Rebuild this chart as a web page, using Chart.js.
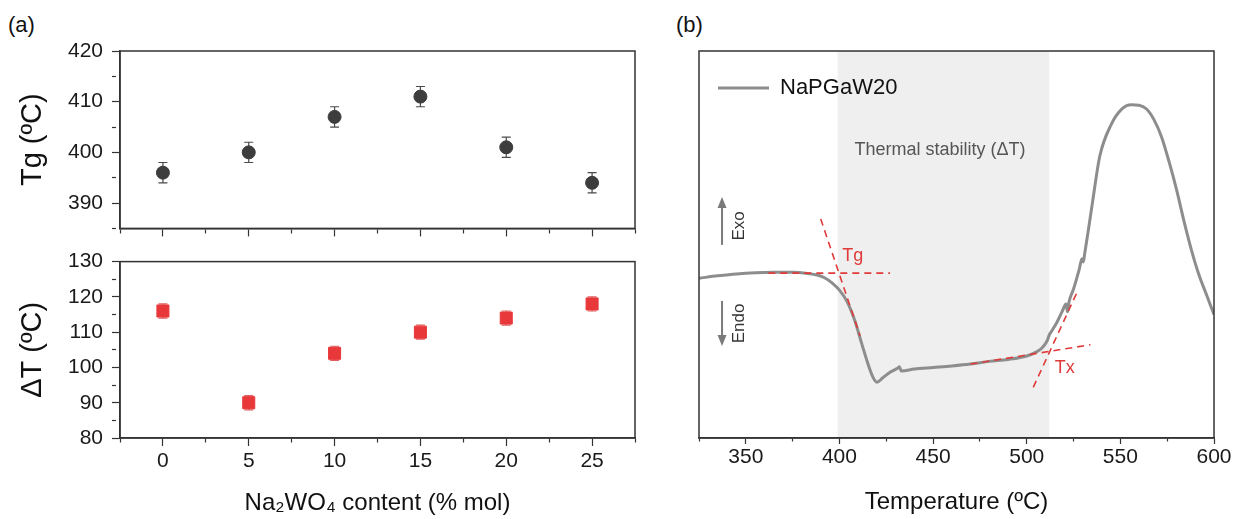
<!DOCTYPE html>
<html>
<head>
<meta charset="utf-8">
<script src="https://cdn.jsdelivr.net/npm/chart.js@4.4.0/dist/chart.umd.min.js"></script>
<style>
  body { margin: 0; background: #fff; font-family: 'Liberation Sans', Arial, sans-serif; }
  #wrap { position: relative; width: 1236px; height: 519px; overflow: hidden; }
  canvas { position: absolute; }
  .tag { position: absolute; font-size: 22px; color: #111; }
</style>
</head>
<body>
<div id="wrap">
  <div class="tag" style="left:8px;top:12px">(a)</div>
  <div class="tag" style="left:676px;top:12px">(b)</div>
  <canvas id="tgChart" width="660" height="250" style="left:0;top:0"></canvas>
  <canvas id="dtChart" width="660" height="279" style="left:0;top:240px"></canvas>
  <canvas id="dscChart" width="576" height="519" style="left:660px;top:0"></canvas>
</div>
<script>
// (a) Tg and thermal stability vs Na2WO4 content
const content = [0, 5, 10, 15, 20, 25];
const tgValues = [396, 400, 407, 411, 401, 394];
const tgErrors = [2, 2, 2, 2, 2, 2];
const dtValues = [116, 90, 104, 110, 114, 118];
const dtErrors = [2, 2, 2, 2, 2, 2];

// tick positions (labels only on the major ones)
const contentTicks = [-2.5, 0, 2.5, 5, 7.5, 10, 12.5, 15, 17.5, 20, 22.5, 25, 27.5];
const tgTicks = [385, 390, 395, 400, 405, 410, 415, 420];
const dtTicks = [80, 85, 90, 95, 100, 105, 110, 115, 120, 125, 130];
const tempTicks = [325, 350, 375, 400, 425, 450, 475, 500, 525, 550, 575, 600];

// (b) DSC trace of NaPGaW20 (signal in arbitrary units)
const dscTemp = [325, 335, 345, 355, 365, 375, 382, 388, 392, 396, 400, 404, 408, 412, 415, 418, 420, 423, 427, 431, 432, 433,
  440, 450, 460, 470, 480, 490, 500, 505, 508, 510, 511, 512, 513, 516, 519, 521, 521.8, 522.6, 525, 528, 529.5, 530.2, 531,
  533, 535, 539, 545, 551, 556, 560, 564, 568, 572, 576, 580, 584, 588, 592, 596, 600];
const dscSignal = [41.3, 41.9, 42.4, 42.7, 42.8, 42.8, 42.6, 42.1, 41.4, 40.1, 38.2, 35.3, 30.6, 24.2, 19.5, 15.6, 14.4, 15.5, 17.0, 18.0, 18.4, 17.3,
  17.8, 18.2, 18.6, 19.1, 19.8, 20.3, 21.2, 22.2, 23.2, 24.4, 25.2, 26.6, 27.4, 29.8, 32.8, 34.6, 32.6, 35.2, 38.5, 43.5, 46.3, 45.5, 47.8,
  54.0, 60.5, 72.8, 80.9, 85.1, 86.1, 86.0, 85.0, 82.2, 77.8, 71.4, 64.2, 56.0, 48.5, 42.1, 37.0, 31.9];

// onset tangents
const tgBaseT = [362, 427];
const tgBaseS = [42.6, 42.6];
const tgSlopeT = [390, 411];
const tgSlopeS = [56.6, 26.4];
const txBaseT = [470, 534];
const txBaseS = [19.1, 24.1];
const txSlopeT = [503.5, 527];
const txSlopeS = [13.1, 37.8];
const stableRange = [399, 512];

const FONT = "'Liberation Sans', Arial, sans-serif";
Chart.defaults.font.family = FONT;
Chart.defaults.color = '#1a1a1a';

const AXIS = '#333';
const RED = '#e03a3a';

// box round the plot area
const frame = {
  id: 'frame',
  afterDraw(chart) {
    const { ctx, chartArea: a } = chart;
    ctx.save();
    ctx.strokeStyle = AXIS;
    ctx.lineWidth = 1.5;
    ctx.strokeRect(a.left, a.top, a.right - a.left, a.bottom - a.top);
    ctx.restore();
  }
};

function errorBars(errors, color) {
  return {
    id: 'errorBars',
    beforeDatasetsDraw(chart) {
      const { ctx, scales: { x, y } } = chart;
      const pts = chart.data.datasets[0].data;
      ctx.save();
      ctx.strokeStyle = color;
      ctx.lineWidth = 1.2;
      pts.forEach((p, i) => {
        const px = x.getPixelForValue(p.x);
        const hi = y.getPixelForValue(p.y + errors[i]);
        const lo = y.getPixelForValue(p.y - errors[i]);
        ctx.beginPath();
        ctx.moveTo(px, hi); ctx.lineTo(px, lo);
        ctx.moveTo(px - 4.5, hi); ctx.lineTo(px + 4.5, hi);
        ctx.moveTo(px - 4.5, lo); ctx.lineTo(px + 4.5, lo);
        ctx.stroke();
      });
      ctx.restore();
    }
  };
}

function isMajor(v, step) {
  return Math.abs(v / step - Math.round(v / step)) < 1e-6;
}

function fixedTicks(values, step) {
  return s => { s.ticks = values.map(v => ({ value: v, minor: !isMajor(v, step) })); };
}

function tickGrid(len) {
  return {
    drawOnChartArea: false,
    drawTicks: true,
    tickLength: len,
    tickColor: AXIS,
    tickWidth: 1.2,
    // minor ticks: only the first half of the tick is drawn
    tickBorderDash: ctx => (ctx.tick && ctx.tick.minor) ? [len / 2, 30] : []
  };
}

function pointAxisX(showLabels) {
  return {
    type: 'linear',
    min: -2.5,
    max: 27.5,
    afterBuildTicks: fixedTicks(contentTicks, 5),
    ticks: {
      autoSkip: false,
      maxRotation: 0,
      display: showLabels,
      padding: 3,
      font: { size: 21 },
      callback: v => isMajor(v, 5) ? v : ''
    },
    grid: tickGrid(8),
    border: { color: AXIS, width: 1.5 }
  };
}

function pointAxisY(min, max, values, title) {
  return {
    min: min,
    max: max,
    afterBuildTicks: fixedTicks(values, 10),
    ticks: {
      autoSkip: false,
      padding: 9,
      font: { size: 21 },
      callback: v => isMajor(v, 10) ? v : ''
    },
    grid: tickGrid(8),
    border: { color: AXIS, width: 1.5 },
    title: { display: true, text: title, font: { size: 29, lineHeight: 1 }, color: '#111', padding: { top: 18, bottom: 0 } },
    afterFit: s => { s.width = 120; }
  };
}

const tgX = pointAxisX(false);
tgX.afterFit = s => { s.height = 17; };
new Chart(document.getElementById('tgChart'), {
  type: 'scatter',
  data: {
    datasets: [{
      label: 'Tg',
      data: content.map((c, i) => ({ x: c, y: tgValues[i] })),
      pointStyle: 'circle',
      pointRadius: 6.5,
      pointHoverRadius: 6.5,
      backgroundColor: '#3d3d3d',
      borderColor: '#3d3d3d'
    }]
  },
  options: {
    responsive: false,
    animation: false,
    layout: { padding: { left: 0, right: 25, top: 51, bottom: 0 } },
    plugins: { legend: { display: false }, tooltip: { enabled: false } },
    scales: { x: tgX, y: pointAxisY(385, 420, tgTicks, 'Tg (ºC)') }
  },
  plugins: [errorBars(tgErrors, '#4a4a4a'), frame]
});

const dtX = pointAxisX(true);
dtX.title = { display: true, text: 'Na₂WO₄ content (% mol)', font: { size: 24, lineHeight: 1 }, color: '#111', padding: { top: 0, bottom: 4 } };
dtX.afterFit = s => { s.height = 81; };
new Chart(document.getElementById('dtChart'), {
  type: 'scatter',
  data: {
    datasets: [{
      label: 'ΔT',
      data: content.map((c, i) => ({ x: c, y: dtValues[i] })),
      pointStyle: 'rect',
      pointRadius: 8.5,
      pointHoverRadius: 8.5,
      backgroundColor: '#e8383a',
      borderColor: '#e8383a'
    }]
  },
  options: {
    responsive: false,
    animation: false,
    layout: { padding: { left: 0, right: 25, top: 17, bottom: 0 } },
    plugins: { legend: { display: false }, tooltip: { enabled: false } },
    scales: { x: dtX, y: pointAxisY(80, 130, dtTicks, 'ΔT (ºC)') }
  },
  plugins: [errorBars(dtErrors, '#e06060'), frame]
});

// shaded window, arrows and labels of panel (b)
function arrow(ctx, x, y0, y1) {
  const dir = Math.sign(y1 - y0);
  ctx.beginPath();
  ctx.moveTo(x, y0);
  ctx.lineTo(x, y1 - dir * 8);
  ctx.stroke();
  ctx.beginPath();
  ctx.moveTo(x, y1);
  ctx.lineTo(x - 4.5, y1 - dir * 11);
  ctx.lineTo(x + 4.5, y1 - dir * 11);
  ctx.closePath();
  ctx.fill();
}

function vText(ctx, txt, x, y) {
  ctx.save();
  ctx.translate(x, y);
  ctx.rotate(-Math.PI / 2);
  ctx.fillText(txt, 0, 0);
  ctx.restore();
}

const dscNotes = {
  id: 'dscNotes',
  beforeDraw(chart) {
    const { ctx, chartArea: a, scales: { x } } = chart;
    const x0 = x.getPixelForValue(stableRange[0]);
    const x1 = x.getPixelForValue(stableRange[1]);
    ctx.save();
    ctx.fillStyle = '#efefef';
    ctx.fillRect(x0, a.top, x1 - x0, a.bottom - a.top);
    ctx.restore();
  },
  afterDatasetsDraw(chart) {
    const { ctx, scales: { x, y } } = chart;
    ctx.save();
    ctx.textBaseline = 'middle';
    ctx.font = '18px ' + FONT;
    ctx.fillStyle = '#555';
    ctx.textAlign = 'left';
    ctx.fillText('Thermal stability (ΔT)', x.getPixelForValue(408), y.getPixelForValue(74.4));

    ctx.fillStyle = RED;
    ctx.fillText('Tg', x.getPixelForValue(401.5), y.getPixelForValue(47));
    ctx.fillText('Tx', x.getPixelForValue(515), y.getPixelForValue(18.2));

    ctx.strokeStyle = '#7a7a7a';
    ctx.fillStyle = '#7a7a7a';
    ctx.lineWidth = 2;
    const ax = x.getPixelForValue(337.3);
    arrow(ctx, ax, y.getPixelForValue(49.9), y.getPixelForValue(62.3));
    arrow(ctx, ax, y.getPixelForValue(35.4), y.getPixelForValue(23.8));

    ctx.fillStyle = '#333';
    ctx.textAlign = 'center';
    ctx.font = '17px ' + FONT;
    vText(ctx, 'Exo', x.getPixelForValue(346.7), y.getPixelForValue(54.8));
    vText(ctx, 'Endo', x.getPixelForValue(346.7), y.getPixelForValue(29.6));
    ctx.restore();
  }
};

function tangent(ts, ss) {
  return {
    label: '',
    data: ts.map((t, i) => ({ x: t, y: ss[i] })),
    borderColor: RED,
    borderWidth: 1.6,
    borderDash: [7, 5],
    pointRadius: 0,
    order: 1
  };
}

new Chart(document.getElementById('dscChart'), {
  type: 'line',
  data: {
    datasets: [
      {
        label: 'NaPGaW20',
        data: dscTemp.map((t, i) => ({ x: t, y: dscSignal[i] })),
        borderColor: '#8d8d8d',
        borderWidth: 3,
        pointRadius: 0,
        cubicInterpolationMode: 'monotone',
        order: 2
      },
      tangent(tgBaseT, tgBaseS),
      tangent(tgSlopeT, tgSlopeS),
      tangent(txBaseT, txBaseS),
      tangent(txSlopeT, txSlopeS)
    ]
  },
  options: {
    responsive: false,
    animation: false,
    layout: { padding: { left: 39, right: 22, top: 51, bottom: 0 } },
    plugins: {
      tooltip: { enabled: false },
      legend: {
        position: 'chartArea',
        align: 'start',
        // blank title only pushes the entry down into the plot
        title: { display: true, text: ' ', font: { size: 10, lineHeight: 1 }, padding: { top: 24, bottom: 24 } },
        labels: {
          filter: item => item.datasetIndex === 0,
          usePointStyle: true,
          pointStyle: 'line',
          pointStyleWidth: 51,
          padding: 19,
          color: '#111',
          font: { size: 22 }
        }
      }
    },
    scales: {
      x: {
        type: 'linear',
        min: 325,
        max: 600,
        afterBuildTicks: fixedTicks(tempTicks, 50),
        ticks: {
          autoSkip: false,
          maxRotation: 0,
          padding: 1,
          font: { size: 21 },
          callback: v => isMajor(v, 50) ? v : ''
        },
        grid: tickGrid(6),
        border: { color: AXIS, width: 1.5 },
        title: { display: true, text: 'Temperature (ºC)', font: { size: 24, lineHeight: 1 }, color: '#111', padding: { top: 0, bottom: 5 } },
        afterFit: s => { s.height = 81; }
      },
      y: { display: false, min: 0, max: 100 }
    }
  },
  plugins: [dscNotes, frame]
});
</script>
</body>
</html>
